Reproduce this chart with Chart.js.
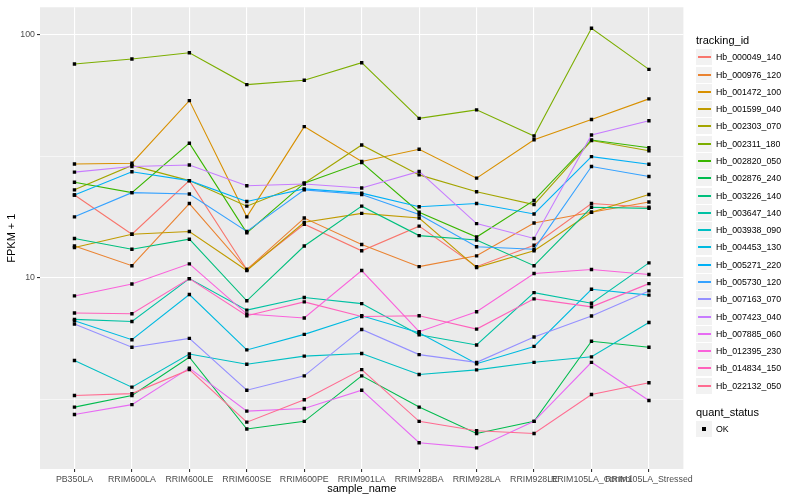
<!DOCTYPE html>
<html>
<head>
<meta charset="utf-8">
<script src="https://cdn.jsdelivr.net/npm/chart.js@4.4.1/dist/chart.umd.min.js"></script>
<style>
  body { margin: 0; background: #fff; font-family: "Liberation Sans", Arial, sans-serif; }
  #wrap { position: relative; width: 800px; height: 500px; }
  #legend { position: absolute; left: 696px; top: 0; width: 104px; height: 500px; }
  .ttl { position: absolute; left: 0; font-size: 11px; color: #000; white-space: nowrap; line-height: 13px; }
  .key { position: absolute; left: 0; width: 16px; height: 16px; background: #F2F2F2; }
  .key i { position: absolute; left: 1.5px; right: 1.5px; top: 7px; height: 1.5px; }
  .key b { position: absolute; left: 6px; top: 6px; width: 3.5px; height: 3.5px; background: #000; }
  .lab { position: absolute; left: 20px; font-size: 8.8px; color: #000; white-space: nowrap; line-height: 10px; }
</style>
</head>
<body>
<div id="wrap">
  <canvas id="fpkmChart" width="800" height="500"></canvas>
  <div id="legend"></div>
</div>
<script>
// samples on the x axis
const sampleNames = [
  'PB350LA', 'RRIM600LA', 'RRIM600LE', 'RRIM600SE', 'RRIM600PE', 'RRIM901LA',
  'RRIM928BA', 'RRIM928LA', 'RRIM928LE', 'RRIM105LA_Control', 'RRIM105LA_Stressed'
];

const trackingIds = [
  'Hb_000049_140', 'Hb_000976_120', 'Hb_001472_100', 'Hb_001599_040', 'Hb_002303_070',
  'Hb_002311_180', 'Hb_002820_050', 'Hb_002876_240', 'Hb_003226_140', 'Hb_003647_140',
  'Hb_003938_090', 'Hb_004453_130', 'Hb_005271_220', 'Hb_005730_120', 'Hb_007163_070',
  'Hb_007423_040', 'Hb_007885_060', 'Hb_012395_230', 'Hb_014834_150', 'Hb_022132_050'
];

// ggplot default hue palette, 20 levels
const lineColours = [
  '#F8766D', '#EA8331', '#D89000', '#C09B00', '#A3A500', '#7CAE00', '#39B600', '#00BB4E',
  '#00BF7D', '#00C1A3', '#00BFC4', '#00BAE0', '#00B0F6', '#35A2FF', '#9590FF', '#C77CFF',
  '#E76BF3', '#FA62DB', '#FF62BC', '#FF6C91'
];

// FPKM + 1 per sample
const hb_000049_140 = [21.9, 15.1, 25.1, 10.8, 16.6, 12.9, 16.3, 11.1, 13.6, 20.2, 19.5];
const hb_000976_120 = [13.5, 11.2, 20.2, 10.8, 17.6, 13.7, 11.1, 12.3, 16.8, 18.6, 20.5];
const hb_001472_100 = [29.4, 29.6, 53.6, 17.8, 41.9, 30.1, 33.8, 25.7, 37.0, 44.8, 54.5];
const hb_001599_040 = [13.3, 15.1, 15.5, 10.7, 16.9, 18.4, 17.6, 11.0, 12.9, 18.6, 22.0];
const hb_002303_070 = [23.0, 29.0, 25.1, 19.7, 24.5, 35.2, 26.5, 22.6, 20.0, 36.7, 33.3];
const hb_002311_180 = [75.9, 79.5, 84.4, 62.4, 65.0, 76.8, 45.3, 49.1, 38.3, 106.5, 72.1];
const hb_002820_050 = [24.7, 22.4, 35.8, 15.3, 24.5, 29.8, 18.6, 14.7, 20.8, 36.9, 34.3];
const hb_002876_240 = [2.93, 3.27, 4.70, 2.38, 2.56, 3.94, 2.93, 2.28, 2.56, 5.47, 5.17];
const hb_003226_140 = [14.5, 13.1, 14.4, 8.03, 13.5, 19.7, 14.9, 14.3, 11.2, 19.5, 19.3];
const hb_003647_140 = [6.73, 6.60, 9.91, 7.35, 8.28, 7.82, 5.82, 5.28, 8.68, 7.85, 11.5];
const hb_003938_090 = [4.56, 3.54, 4.85, 4.40, 4.75, 4.87, 3.99, 4.17, 4.48, 4.72, 6.54];
const hb_004453_130 = [6.65, 5.55, 8.52, 5.04, 5.84, 6.97, 5.93, 4.42, 5.21, 8.96, 8.47];
const hb_005271_220 = [21.9, 27.3, 25.1, 20.6, 23.2, 22.3, 19.6, 20.2, 18.3, 31.5, 29.3];
const hb_005730_120 = [17.8, 22.4, 22.1, 15.5, 23.0, 22.0, 18.2, 13.4, 13.1, 28.7, 26.1];
const hb_007163_070 = [6.44, 5.17, 5.62, 3.44, 3.94, 6.12, 4.82, 4.48, 5.70, 6.95, 8.82];
const hb_007423_040 = [27.2, 28.7, 29.1, 23.9, 24.3, 23.4, 27.4, 16.7, 14.5, 38.7, 44.3];
const hb_007885_060 = [2.73, 3.00, 4.24, 2.82, 2.89, 3.44, 2.09, 1.99, 2.56, 4.48, 3.12];
const hb_012395_230 = [8.41, 9.42, 11.4, 7.08, 6.82, 10.7, 5.99, 7.24, 10.4, 10.8, 10.3];
const hb_014834_150 = [7.15, 7.10, 9.91, 6.97, 7.95, 6.92, 6.97, 6.14, 8.18, 7.58, 9.45];
const hb_022132_050 = [3.27, 3.33, 4.18, 2.54, 3.14, 4.18, 2.56, 2.34, 2.28, 3.30, 3.69];

const seriesValues = [
  hb_000049_140, hb_000976_120, hb_001472_100, hb_001599_040, hb_002303_070,
  hb_002311_180, hb_002820_050, hb_002876_240, hb_003226_140, hb_003647_140,
  hb_003938_090, hb_004453_130, hb_005271_220, hb_005730_120, hb_007163_070,
  hb_007423_040, hb_007885_060, hb_012395_230, hb_014834_150, hb_022132_050
];

// log10 breaks: labelled majors and the minor ones between them
const majorBreaks = [10, 100];
const yBreaks = [3.1623, 10, 31.623, 100];

Chart.defaults.font.family = '"Liberation Sans", Arial, sans-serif';

const panelBg = {
  id: 'panelBg',
  beforeDraw(chart) {
    const { ctx, chartArea: a } = chart;
    ctx.save();
    ctx.fillStyle = '#EBEBEB';
    ctx.fillRect(a.left, a.top, a.right - a.left, a.bottom - a.top);
    ctx.restore();
  }
};

const isMajor = (v) => majorBreaks.includes(v);

const fpkmChart = new Chart(document.getElementById('fpkmChart').getContext('2d'), {
  type: 'line',
  data: {
    datasets: trackingIds.map((id, i) => ({
      label: id,
      data: seriesValues[i].map((v, j) => ({ x: j, y: v })),
      borderColor: lineColours[i],
      borderWidth: 1.1,
      fill: false,
      tension: 0,
      order: -i,
      pointStyle: 'rect',
      pointRadius: 2.4,
      pointBackgroundColor: '#000',
      pointBorderWidth: 0
    }))
  },
  options: {
    responsive: false,
    animation: false,
    layout: { padding: { left: 0, right: 116.6, top: 5, bottom: 0 } },
    plugins: {
      legend: { display: false },
      tooltip: { enabled: false }
    },
    scales: {
      x: {
        type: 'linear',
        min: -0.6,
        max: 10.6,
        afterFit: (s) => { s.height = 31; },
        afterBuildTicks: (s) => { s.ticks = sampleNames.map((_, i) => ({ value: i })); },
        ticks: {
          callback: (v) => sampleNames[v],
          autoSkip: false,
          maxRotation: 0,
          minRotation: 0,
          padding: 2,
          color: '#4D4D4D',
          font: { size: 8.8 }
        },
        grid: { color: '#FFFFFF', lineWidth: 1.1, tickLength: 3, tickColor: '#333333' },
        border: { display: false },
        title: {
          display: true,
          text: 'sample_name',
          color: '#000',
          font: { size: 11 },
          padding: { top: 0, bottom: 4 }
        }
      },
      y: {
        type: 'logarithmic',
        bounds: 'data',
        min: 1.629,
        max: 129.9,
        afterFit: (s) => { s.width = 40; },
        afterBuildTicks: (s) => { s.ticks = yBreaks.map((v) => ({ value: v })); },
        ticks: {
          callback: (v) => (isMajor(v) ? String(v) : ''),
          padding: 2,
          color: '#4D4D4D',
          font: { size: 8.8 }
        },
        grid: {
          color: '#FFFFFF',
          lineWidth: (c) => (c.tick && isMajor(c.tick.value) ? 1.1 : 0.55),
          tickLength: 3,
          tickColor: (c) => (c.tick && isMajor(c.tick.value) ? '#333333' : 'rgba(0,0,0,0)')
        },
        border: { display: false },
        title: {
          display: true,
          text: 'FPKM + 1',
          color: '#000',
          font: { size: 11 },
          padding: { top: 5, bottom: 0 }
        }
      }
    }
  },
  plugins: [panelBg]
});

// ggplot-style legend
const legend = document.getElementById('legend');
const addText = (cls, text, top) => {
  const el = document.createElement('div');
  el.className = cls;
  el.textContent = text;
  el.style.top = top + 'px';
  legend.appendChild(el);
};
addText('ttl', 'tracking_id', 34);
trackingIds.forEach((id, i) => {
  const cy = 57.3 + 17.28 * i;
  const key = document.createElement('div');
  key.className = 'key';
  key.style.top = Math.round(cy - 8) + 'px';
  const ln = document.createElement('i');
  ln.style.background = lineColours[i];
  key.appendChild(ln);
  legend.appendChild(key);
  addText('lab', id, cy - 5);
});
addText('ttl', 'quant_status', 406);
const okKey = document.createElement('div');
okKey.className = 'key';
okKey.style.top = Math.round(429.3 - 8) + 'px';
okKey.appendChild(document.createElement('b'));
legend.appendChild(okKey);
addText('lab', 'OK', 429.3 - 5);
</script>
</body>
</html>
